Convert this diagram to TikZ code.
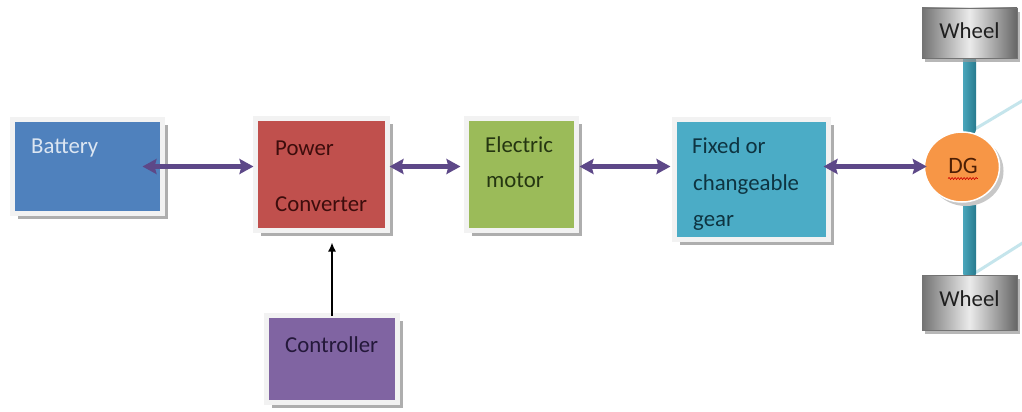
\documentclass[tikz,border=0pt]{standalone}
\usepackage{fontspec}
\setmainfont{Carlito}
\usetikzlibrary{arrows.meta,shadows,shapes.geometric,decorations.pathmorphing,calc}
\pgfdeclarelayer{background}
\pgfsetlayers{background,main}

\definecolor{batblue}{HTML}{4F81BD}
\definecolor{pcred}{HTML}{C0504D}
\definecolor{emgreen}{HTML}{9BBB59}
\definecolor{gearcyan}{HTML}{4BACC6}
\definecolor{ctlviolet}{HTML}{8064A2}
\definecolor{dgorange}{HTML}{F79646}
\definecolor{linkpurple}{HTML}{5D4888}
\definecolor{battxt}{HTML}{DCE6F2}
\definecolor{pctxt}{HTML}{3D0D0C}
\definecolor{emtxt}{HTML}{253611}
\definecolor{geartxt}{HTML}{0E3441}
\definecolor{ctltxt}{HTML}{24183A}
\definecolor{dgtxt}{HTML}{4D1F05}
\definecolor{shaftdark}{HTML}{277A8E}
\definecolor{shaftlight}{HTML}{4AA6BB}
\definecolor{tielight}{HTML}{C5E5EC}

\begin{document}
\begin{tikzpicture}[x=1pt,y=-1pt,
  block/.style={rectangle, inner sep=0pt, outer sep=0pt,
    draw=black!5, line width=5pt,
    drop shadow={shadow xshift=5pt, shadow yshift=-5pt, fill=black!45, opacity=0.7}},
  wheelbox/.style={rectangle, inner sep=0pt, outer sep=0pt,
    draw=black!55, line width=0.8pt,
    left color=black!55, right color=black!60, middle color=black!8,
    drop shadow={shadow xshift=3pt, shadow yshift=-4pt, fill=black!40, opacity=0.7}},
  lbl/.style={anchor=base west, inner sep=0pt, font=\fontsize{22.8}{27}\selectfont},
  dbl/.style={draw=linkpurple, line width=5.5pt,
    {Stealth[length=14pt,width=15pt,inset=2pt]}-{Stealth[length=14pt,width=15pt,inset=2pt]}},
  ctlarrow/.style={draw=black, line width=1.6pt, -{Latex[length=9pt,width=8pt]}, shorten >=12pt},
  shaft/.style={left color=shaftlight, right color=shaftdark, rounded corners=6pt},
  tie/.style={draw=tielight, line width=3pt}
]
\useasboundingbox (0,0) rectangle (1022,412);

% drive-train blocks
\node[block, fill=batblue,   minimum width=150pt, minimum height=94pt]  (bat)  at (87.5,166.5) {};
\node[block, fill=pcred,     minimum width=132pt, minimum height=112pt] (pc)   at (321.5,174.5) {};
\node[block, fill=emgreen,   minimum width=110pt, minimum height=112pt] (em)   at (521.5,174.5) {};
\node[block, fill=gearcyan,  minimum width=154pt, minimum height=120pt] (gear) at (751.5,179.5) {};
\node[block, fill=ctlviolet, minimum width=131pt, minimum height=87pt]  (ctl)  at (332,359) {};

% block texts
\node[lbl, text=battxt]  (batl) at (31,153)    {Battery};
\node[lbl, text=pctxt]   (pcl1) at (275,155)   {Power};
\node[lbl, text=pctxt]   (pcl2) at (275,211.5) {Converter};
\node[lbl, text=emtxt]   (eml1) at (485,152.7) {Electric};
\node[lbl, text=emtxt]   (eml2) at (486,187)   {motor};
\node[lbl, text=geartxt] (gl1)  at (692,153)   {Fixed or};
\node[lbl, text=geartxt] (gl2)  at (693,190.5) {changeable};
\node[lbl, text=geartxt] (gl3)  at (693,226)   {gear};
\node[lbl, text=ctltxt]  (ctll) at (285,352.5) {Controller};

% differential and wheels
\node[ellipse, minimum width=75pt, minimum height=70pt, inner sep=0pt,
      fill=dgorange, draw=white, line width=1.5pt,
      drop shadow={shadow xshift=4pt, shadow yshift=-4pt, fill=black!22, opacity=1}]
      (dg) at (962,167) {};
\node[anchor=base, inner sep=0pt, text=dgtxt, font=\fontsize{23.5}{28}\selectfont] (dgl) at (963,173) {DG};
\draw[red!80!black, line width=0.6pt, decorate,
      decoration={snake, amplitude=1pt, segment length=3pt}]
      ($(dgl.base west)+(0,5.5)$) -- ($(dgl.base east)+(0,5.5)$);

\node[wheelbox, minimum width=95pt, minimum height=50pt] (w1) at (969.5,33) {};
\node[wheelbox, minimum width=95pt, minimum height=55pt] (w2) at (969.5,302.5) {};
\node[anchor=base, inner sep=0pt, text=black!88, font=\fontsize{22.8}{27}\selectfont] (w1l) at (969.5,39) {Wheel};
\node[anchor=base, inner sep=0pt, text=black!88, font=\fontsize{22.8}{27}\selectfont] (w2l) at (969.5,306.5) {Wheel};

% axle shafts and ties running off to the right
\coordinate (t1a) at (975,129);
\coordinate (t1b) at (1032,95);
\coordinate (t2a) at (975,273);
\coordinate (t2b) at (1032,237);
\begin{pgfonlayer}{background}
  \fill[white] (0,0) rectangle (1022,412);
  \draw[tie] (t1a) -- (t1b);
  \draw[tie] (t2a) -- (t2b);
  \shade[shaft] ($(w1.south)+(-6.5,-4)$) rectangle ($(w1.south |- dg.north)+(6.5,4)$);
  \shade[shaft] ($(w2.north)+(-6.5,4)$) rectangle ($(w2.north |- dg.south)+(6.5,-4)$);
\end{pgfonlayer}

% power flow links
\draw[dbl] ($(bat.east)+(-20,0)$) -- ($(pc.west |- bat.east)+(-2,0)$);
\draw[dbl] ($(pc.east |- bat.east)+(2,0)$) -- ($(em.west |- bat.east)+(-6,0)$);
\draw[dbl] ($(em.east |- bat.east)+(3,0)$) -- ($(gear.west |- bat.east)+(-4,0)$);
\draw[dbl] ($(gear.east |- bat.east)+(-5,0)$) -- ($(dg.west |- bat.east)+(3,0)$);

% control signal
\draw[ctlarrow] (ctl.north) -- (ctl.north |- pc.south);
\end{tikzpicture}
\end{document}
